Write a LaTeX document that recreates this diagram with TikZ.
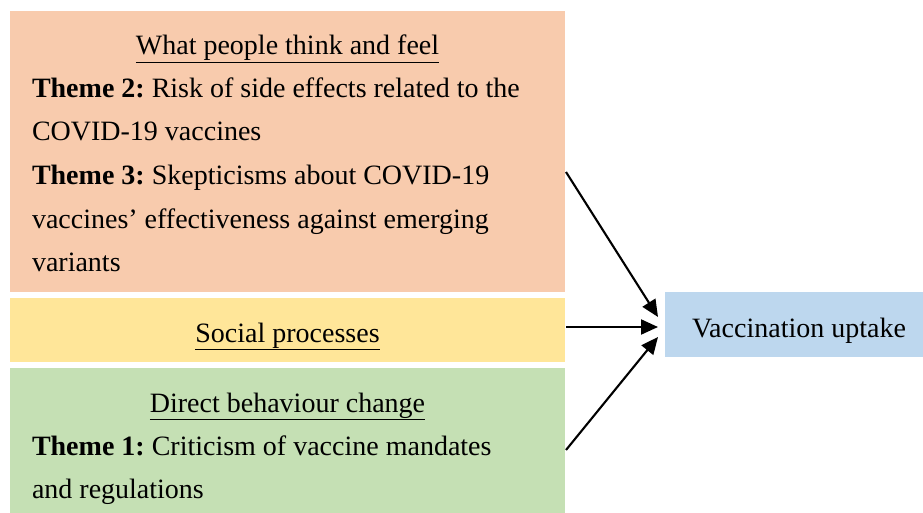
\documentclass[tikz,border=0pt]{standalone}
\usepackage{fontspec}
\setmainfont{Liberation Serif}
\usetikzlibrary{arrows.meta}
\frenchspacing

\definecolor{thinkfill}{HTML}{F8CBAD}
\definecolor{socialfill}{HTML}{FFE699}
\definecolor{behavefill}{HTML}{C5E0B4}
\definecolor{uptakefill}{HTML}{BDD7EE}

\tikzset{
  panel/.style={draw=none, inner sep=0pt, outer sep=0pt},
  txt/.style={inner sep=0pt, outer sep=0pt, anchor=base west,
    font=\fontsize{28}{34}\selectfont\frenchspacing},
  ctxt/.style={txt, anchor=base},
  flow/.style={line width=2.1pt, -{Triangle[length=17pt,width=15pt]}}
}

\begin{document}
\begin{tikzpicture}[x=1pt,y=-1pt]
  \useasboundingbox (0,0) rectangle (923,513);

  % coloured panels
  \fill[thinkfill]  (10,11)  rectangle (565,292);
  \node[panel, minimum width=555pt, minimum height=281pt] (think) at (287.5,151.5) {};
  \fill[socialfill] (10,298) rectangle (565,362);
  \node[panel, minimum width=555pt, minimum height=64pt] (social) at (287.5,330) {};
  \fill[behavefill] (10,368) rectangle (565,513);
  \node[panel, minimum width=555pt, minimum height=145pt] (behave) at (287.5,440.5) {};
  \fill[uptakefill] (665,292) rectangle (923,357);
  \node[panel, minimum width=258pt, minimum height=65pt] (uptake) at (794,324.5) {};

  % text of the first panel
  \node[ctxt] (t1) at (287.5,55) {\underline{What people think and feel}};
  \node[txt] (t2) at (32,98) {\textbf{Theme 2:} Risk of side effects related to the};
  \node[txt] (t3) at (32,141) {COVID-19 vaccines};
  \node[txt] (t4) at (32,185) {\textbf{Theme 3:} Skepticisms about COVID-19};
  \node[txt] (t5) at (32,228) {vaccines’ effectiveness against emerging};
  \node[txt] (t6) at (32,271) {variants};

  % text of the second panel
  \node[ctxt] (s1) at (287.5,342) {\underline{Social processes}};

  % text of the third panel
  \node[ctxt] (b1) at (287.5,412) {\underline{Direct behaviour change}};
  \node[txt] (b2) at (32,455) {\textbf{Theme 1:} Criticism of vaccine mandates};
  \node[txt] (b3) at (32,498) {and regulations};

  % outcome
  \node[ctxt] (u1) at (799,337) {Vaccination uptake};

  % connector ends
  \coordinate (thinkOut)  at (566,172);
  \coordinate (socialOut) at (566,327);
  \coordinate (behaveOut) at (566,450);
  \coordinate (inTop) at (658,317);
  \coordinate (inMid) at (658,327);
  \coordinate (inBot) at (658,337);

  \draw[flow] (thinkOut)  -- (inTop);
  \draw[flow] (socialOut) -- (inMid);
  \draw[flow] (behaveOut) -- (inBot);
\end{tikzpicture}
\end{document}
